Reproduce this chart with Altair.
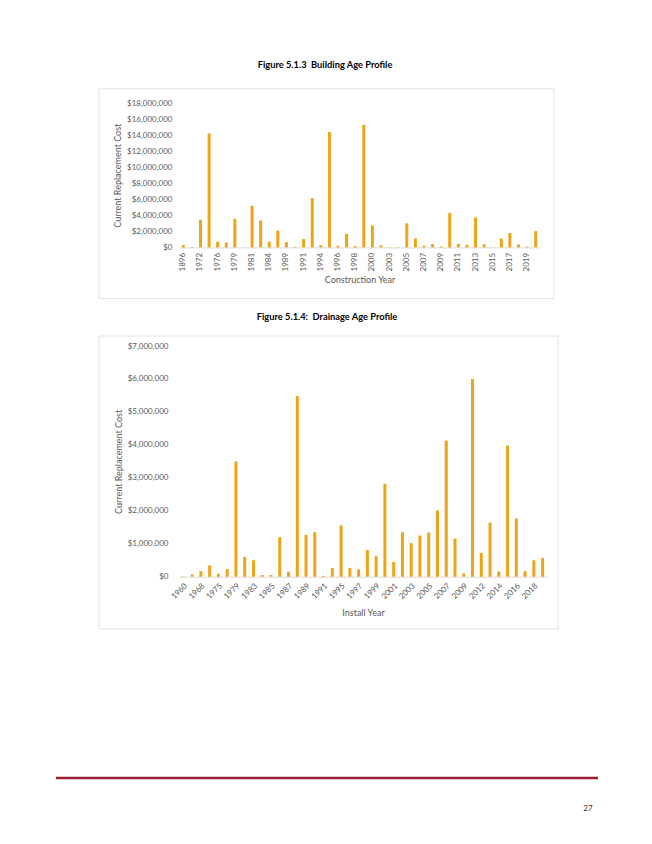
import altair as alt
import pandas as pd

# ---------------- text ----------------
fig1_title = "Figure 5.1.3\u00a0 Building Age Profile"
fig2_title = "Figure 5.1.4:\u00a0 Drainage Age Profile"
y_title = "Current Replacement Cost"
x1_title = "Construction Year"
x2_title = "Install Year"
page_number = "27"

# ---------------- data: Building Age Profile ----------------
years1 = ["1896", "1970", "1972", "1974", "1976", "1977", "1979", "1980", "1981", "1983",
          "1984", "1986", "1989", "1990", "1991", "1992", "1994", "1995", "1996", "1997",
          "1998", "1999", "2000", "2002", "2003", "2004", "2005", "2006", "2007", "2008",
          "2009", "2010", "2011", "2012", "2013", "2014", "2015", "2016", "2017", "2018",
          "2019", "2020"]
cost1_millions = [0.30, 0.05, 3.45, 14.20, 0.72, 0.62, 3.55, 0.00, 5.20, 3.35,
                  0.72, 2.10, 0.65, 0.08, 1.04, 6.15, 0.28, 14.40, 0.20, 1.66,
                  0.17, 15.26, 2.74, 0.25, 0.04, 0.04, 3.00, 1.12, 0.20, 0.40,
                  0.12, 4.30, 0.45, 0.33, 3.74, 0.40, 0.02, 1.12, 1.79, 0.37,
                  0.10, 2.03]
labels1 = years1[::2]
ticks1 = [0, 2e6, 4e6, 6e6, 8e6, 10e6, 12e6, 14e6, 16e6, 18e6]

# ---------------- data: Drainage Age Profile ----------------
years2 = ["1960", "1965", "1968", "1970", "1975", "1977", "1979", "1981", "1983", "1984",
          "1985", "1986", "1987", "1988", "1989", "1990", "1991", "1993", "1995", "1996",
          "1997", "1998", "1999", "2000", "2001", "2002", "2003", "2004", "2005", "2006",
          "2007", "2008", "2009", "2011", "2012", "2013", "2014", "2015", "2016", "2017",
          "2018", "2019"]
cost2_millions = [0.01, 0.07, 0.17, 0.34, 0.09, 0.23, 3.50, 0.60, 0.50, 0.05,
                  0.05, 1.20, 0.15, 5.48, 1.27, 1.35, 0.02, 0.26, 1.56, 0.26,
                  0.22, 0.81, 0.62, 2.82, 0.45, 1.35, 1.02, 1.25, 1.34, 2.01,
                  4.13, 1.16, 0.10, 6.00, 0.72, 1.64, 0.16, 3.98, 1.77, 0.17,
                  0.50, 0.57]
labels2 = years2[::2]
ticks2 = [0, 1e6, 2e6, 3e6, 4e6, 5e6, 6e6, 7e6]

# ---------------- styles ----------------
FONT = "Lato"
BAR = "#EDA518"
GRAY = "#595959"
BORDER = "#D9D9D9"
RED = "#9C1D32"

df1 = pd.DataFrame({"year": years1, "cost": [v * 1e6 for v in cost1_millions]})
df2 = pd.DataFrame({"year": years2, "cost": [v * 1e6 for v in cost2_millions]})
one = pd.DataFrame({"k": [0]})


def label_expr(labels):
    arr = ",".join("'%s'" % s for s in labels)
    return "indexof([%s], datum.value) >= 0 ? datum.value : ''" % arr


def bars(df, years, labels, ticks, ymax, xtitle, angle, ylabpad, ytitlepad, xlabpad, xtitlepad):
    return alt.Chart(df).mark_bar(size=3, color=BAR).encode(
        x=alt.X("year:N", sort=years, title=xtitle,
                scale=alt.Scale(paddingInner=0, paddingOuter=0),
                axis=alt.Axis(labelExpr=label_expr(labels), labelAngle=angle,
                              ticks=False, tickSize=0,
                              domainColor=BORDER, domainWidth=1, grid=False,
                              labelColor=GRAY, labelFont=FONT, labelFontSize=8,
                              labelPadding=xlabpad, labelOverlap=False,
                              titleColor=GRAY, titleFont=FONT, titleFontSize=9,
                              titleFontWeight="normal", titlePadding=xtitlepad)),
        y=alt.Y("cost:Q", title=y_title,
                scale=alt.Scale(domain=[0, ymax], nice=False),
                axis=alt.Axis(values=ticks, format="$,.0f", grid=False, domain=False,
                              ticks=False, tickSize=0,
                              labelColor=GRAY, labelFont=FONT, labelFontSize=8,
                              labelPadding=ylabpad,
                              titleColor=GRAY, titleFont=FONT, titleFontSize=9,
                              titleFontWeight="normal", titlePadding=ytitlepad)),
    )


def box(x1, x2, y1, y2):
    return alt.Chart(one).mark_rect(fill="white", fillOpacity=0, stroke=BORDER,
                                    strokeWidth=0.8).encode(
        x=alt.value(x1), x2=alt.value(x2), y=alt.value(y1), y2=alt.value(y2))


def caption(text, x, y):
    return alt.Chart(one).mark_text(font=FONT, fontSize=9.3, fontWeight="bold",
                                    color="black", align="center",
                                    baseline="middle").encode(
        x=alt.value(x), y=alt.value(y), text=alt.value(text))


W1, H1 = 361, 144.4
W2, H2 = 368, 230.7

panel1 = alt.layer(
    box(-80, 375, -14.3, 195.7),
    caption(fig1_title, 146, -38.3),
    bars(df1, years1, labels1, ticks1, 18e6, x1_title, 270, 7, 4, 5, 5),
).properties(width=W1, height=H1)

rule = alt.Chart(one).mark_rule(color=RED, strokeWidth=2.5).encode(
    x=alt.value(-123), x2=alt.value(419), y=alt.value(432))
pnum = alt.Chart(one).mark_text(font=FONT, fontSize=8, color="#333333",
                                align="center", baseline="middle").encode(
    x=alt.value(409), y=alt.value(463), text=alt.value(page_number))

panel2 = alt.layer(
    box(-80, 379, -10, 283),
    caption(fig2_title, 148, -29),
    bars(df2, years2, labels2, ticks2, 7e6, x2_title, 315, 11, 4, 5, 8),
    rule,
    pnum,
).properties(width=W2, height=H2)

chart = alt.vconcat(panel1, panel2, spacing=13).properties(
    padding={"left": 46, "top": 52, "right": 5, "bottom": 5},
    background="white",
).configure_view(stroke=None)

chart.save("out.html", embed_options={"renderer": "svg", "actions": False})
